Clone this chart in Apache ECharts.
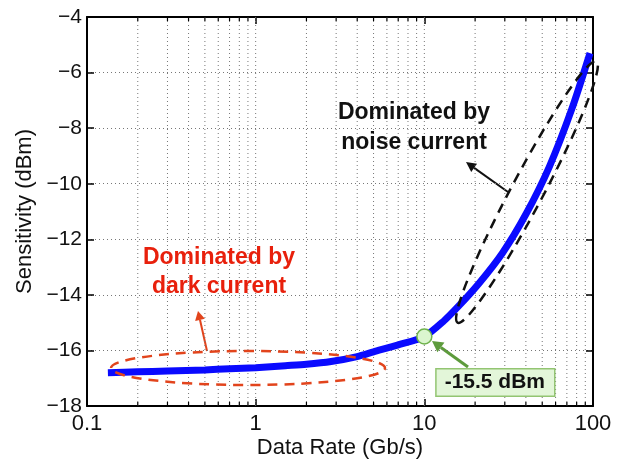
<!DOCTYPE html>
<html>
<head>
<meta charset="utf-8">
<script src="https://cdn.jsdelivr.net/npm/echarts@6/dist/echarts.min.js"></script>
<style>
  html, body { margin: 0; padding: 0; background: #fff; }
  #chart { width: 625px; height: 460px; }
</style>
</head>
<body>
<div id="chart"></div>
<script>
// Receiver sensitivity versus data rate
const rateGbps = [0.133, 0.2, 0.3, 0.5, 0.7, 1, 1.5, 2, 2.8, 4, 5, 7, 10, 13, 16, 21, 29, 40, 55, 75, 96];
const sensitivityDbm = [-16.8, -16.77, -16.74, -16.7, -16.66, -16.62, -16.55, -16.5, -16.4, -16.22, -16.05, -15.8, -15.5, -14.95, -14.4, -13.6, -12.5, -11.1, -9.4, -7.3, -5.3];

// Highlighted operating point
const markedRate = [10];
const markedSensitivity = [-15.5];

// Axis ranges
const xRange = [0.1, 100];
const yRange = [-18, -4];
const yStep = 2;

// Positions of the vertical (log) grid lines; decades get no minor tick
const logGridValues = [0.2, 0.3, 0.4, 0.5, 0.6, 0.7, 0.8, 0.9, 1, 2, 3, 4, 5, 6, 7, 8, 9, 10, 20, 30, 40, 50, 60, 70, 80, 90];
const decadeValues = [0.1, 1, 10, 100];

const FONT = 'Liberation Sans, Arial, sans-serif';
const chart = echarts.init(document.getElementById('chart'));

function minusLabel(v) {
  return v < 0 ? '\u2212' + Math.abs(v) : String(v);
}

function arrow(x1, y1, x2, y2, color, width, headLen, headHalf) {
  const ang = Math.atan2(y2 - y1, x2 - x1);
  const bx = x2 - headLen * Math.cos(ang);
  const by = y2 - headLen * Math.sin(ang);
  const px = -Math.sin(ang), py = Math.cos(ang);
  return {
    type: 'group',
    children: [
      { type: 'line', shape: { x1: x1, y1: y1, x2: bx, y2: by },
        style: { stroke: color, lineWidth: width } },
      { type: 'polygon',
        shape: { points: [[x2, y2], [bx + px * headHalf, by + py * headHalf], [bx - px * headHalf, by - py * headHalf]] },
        style: { fill: color } }
    ]
  };
}

const annotations = [
  // dark-current region
  { type: 'ellipse', x: 248, y: 368, shape: { cx: 0, cy: 0, rx: 137, ry: 17 },
    style: { fill: 'none', stroke: '#e2441c', lineWidth: 2.5, lineDash: [10, 7] }, z: 20 },
  arrow(207, 351, 198, 311, '#e2441c', 2, 9, 5),
  { type: 'text', x: 219, y: 272, z: 20,
    style: { text: 'Dominated by\ndark current', font: 'bold 23px ' + FONT, fill: '#e8200c',
             textAlign: 'center', textVerticalAlign: 'middle', lineHeight: 29 } },
  // noise-current region
  { type: 'ellipse', x: 527, y: 192, rotation: 62 * Math.PI / 180, shape: { cx: 0, cy: 0, rx: 148, ry: 16 },
    style: { fill: 'none', stroke: '#111', lineWidth: 2.5, lineDash: [10, 7] }, z: 20 },
  arrow(508, 192, 466, 162, '#111', 2, 10, 5),
  { type: 'text', x: 414, y: 128, z: 20,
    style: { text: 'Dominated by\nnoise current', font: 'bold 23px ' + FONT, fill: '#111',
             textAlign: 'center', textVerticalAlign: 'middle', lineHeight: 30 } },
  // pointer to the operating point
  arrow(468, 367, 432, 341, '#5d9b3c', 3, 11, 6)
];

chart.setOption({
  animation: false,
  backgroundColor: '#fff',
  grid: { left: 87, right: 32, top: 17, bottom: 54, outerBoundsMode: 'none', containLabel: false },
  xAxis: [
    {
      type: 'log', logBase: 10, min: xRange[0], max: xRange[1],
      name: 'Data Rate (Gb/s)', nameLocation: 'middle', nameGap: 31, nameMoveOverlap: false,
      nameTextStyle: { fontFamily: FONT, fontSize: 22, color: '#111' },
      axisLine: { show: true, lineStyle: { color: '#000', width: 2 } },
      axisTick: { show: true, inside: true, length: 7, lineStyle: { color: '#000', width: 1.5 } },
      axisLabel: { fontFamily: FONT, fontSize: 22, color: '#111', margin: 7 },
      splitLine: { show: false }, minorTick: { show: false }
    },
    {
      type: 'log', logBase: 10, min: xRange[0], max: xRange[1], position: 'top',
      axisLine: { show: true, lineStyle: { color: '#000', width: 2 } },
      axisTick: { show: true, inside: true, length: 7, lineStyle: { color: '#000', width: 1.5 } },
      axisLabel: { show: false }, splitLine: { show: false }
    }
  ],
  yAxis: [
    {
      type: 'value', min: yRange[0], max: yRange[1], interval: yStep,
      name: 'Sensitivity (dBm)', nameLocation: 'middle', nameGap: 51, nameMoveOverlap: false,
      nameTextStyle: { fontFamily: FONT, fontSize: 22, color: '#111' },
      axisLine: { show: true, lineStyle: { color: '#000', width: 2 } },
      axisTick: { show: true, inside: true, length: 7, lineStyle: { color: '#000', width: 1.5 } },
      axisLabel: { fontFamily: FONT, fontSize: 21, color: '#111', margin: 5, formatter: minusLabel },
      splitLine: { show: true, lineStyle: { color: '#777', width: 1, type: [1, 3] } }
    },
    {
      type: 'value', min: yRange[0], max: yRange[1], interval: yStep, position: 'right',
      axisLine: { show: true, lineStyle: { color: '#000', width: 2 } },
      axisTick: { show: true, inside: true, length: 7, lineStyle: { color: '#000', width: 1.5 } },
      axisLabel: { show: false }, splitLine: { show: false }
    }
  ],
  series: [
    {
      // dotted log grid with small inward minor ticks on bottom and top
      type: 'custom', silent: true, z: 1,
      data: logGridValues.map(v => [v]),
      renderItem: function (params, api) {
        const v = api.value(0);
        const lo = api.coord([v, yRange[0]]);
        const hi = api.coord([v, yRange[1]]);
        const children = [{
          type: 'line', shape: { x1: lo[0], y1: lo[1], x2: hi[0], y2: hi[1] },
          style: { stroke: '#777', lineWidth: 1, lineDash: [1, 3] }
        }];
        if (decadeValues.indexOf(v) < 0) {
          children.push({ type: 'line', shape: { x1: lo[0], y1: lo[1], x2: lo[0], y2: lo[1] - 4 },
                          style: { stroke: '#000', lineWidth: 1.2 } });
          children.push({ type: 'line', shape: { x1: hi[0], y1: hi[1], x2: hi[0], y2: hi[1] + 4 },
                          style: { stroke: '#000', lineWidth: 1.2 } });
        }
        return { type: 'group', children: children };
      }
    },
    {
      type: 'line', z: 5,
      data: rateGbps.map((r, i) => [r, sensitivityDbm[i]]),
      smooth: 0.25, showSymbol: false,
      lineStyle: { color: '#0a0aff', width: 7, cap: 'butt' }
    },
    {
      type: 'scatter', z: 30,
      data: markedRate.map((r, i) => [r, markedSensitivity[i]]),
      symbol: 'circle', symbolSize: 15,
      itemStyle: { color: '#dbf6cf', borderColor: '#6fb24c', borderWidth: 1.5, opacity: 1 },
      label: {
        show: true, position: 'inside', offset: [71, 46],
        formatter: p => p.value[1] + ' dBm',
        fontFamily: FONT, fontWeight: 'bold', fontSize: 21, color: '#111',
        backgroundColor: '#e3f6d9', borderColor: '#93c572', borderWidth: 1.5,
        padding: [3, 9, 2, 8]
      }
    }
  ],
  graphic: annotations
});
</script>
</body>
</html>
